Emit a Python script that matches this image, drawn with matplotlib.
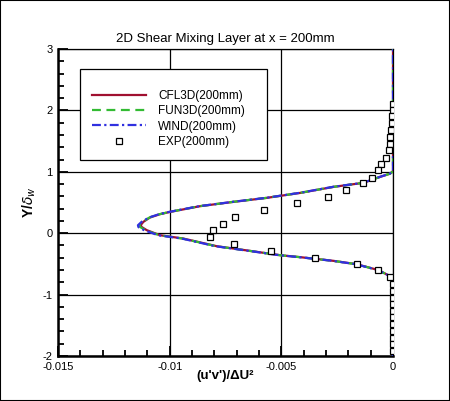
import matplotlib
matplotlib.use("Agg")
import matplotlib.pyplot as plt
from matplotlib.patches import Rectangle
from matplotlib.ticker import MultipleLocator

plt.rcParams['font.family'] = ['Liberation Sans', 'DejaVu Sans']

# ---- data ----
cfd_y = [-2.0, -0.75, -0.733, -0.684, -0.60, -0.505, -0.45, -0.39, -0.358, -0.288,
         -0.212, -0.087, -0.033, 0.05, 0.10, 0.13, 0.184, 0.256, 0.31, 0.347,
         0.44, 0.51, 0.575, 0.656, 0.754, 0.82, 0.917, 0.97, 1.01, 3.0]
cfl3d_x = [0, 0, -0.00002, -0.00021, -0.00066, -0.00163, -0.00267, -0.00416, -0.00506, -0.0064,
           -0.00789, -0.00939, -0.01043, -0.01103, -0.01125, -0.0113, -0.01118, -0.01088, -0.01043, -0.00998,
           -0.00864, -0.00715, -0.00566, -0.00416, -0.00267, -0.00133, -0.00058, -0.00013, 0, 0]
fun3d_x = [0, 0, -0.00002, -0.00022, -0.00067, -0.00165, -0.00268, -0.00418, -0.00508, -0.00642,
           -0.00792, -0.00942, -0.01047, -0.01108, -0.01132, -0.01136, -0.01122, -0.0109, -0.01045, -0.01,
           -0.00866, -0.00717, -0.00568, -0.00418, -0.00268, -0.00134, -0.00058, -0.00013, 0, 0]
wind_x = [0, 0, -0.00002, -0.00022, -0.00068, -0.00166, -0.0027, -0.0042, -0.0051, -0.00645,
          -0.00795, -0.00946, -0.01052, -0.01115, -0.0114, -0.01142, -0.01126, -0.01092, -0.01047, -0.01002,
          -0.00868, -0.00719, -0.0057, -0.0042, -0.0027, -0.00135, -0.00059, -0.00014, 0, 0]

exp_y = [2.11, 2.0, 1.905, 1.80, 1.68, 1.57, 1.46, 1.35, 1.23, 1.135, 1.026, 0.907, 0.81,
         0.70, 0.586, 0.484, 0.37, 0.256, 0.147, 0.044, -0.07, -0.184, -0.282, -0.396,
         -0.505, -0.60, -0.72, -0.83, -0.94, -1.05, -1.16, -1.27, -1.37, -1.48, -1.59,
         -1.70, -1.81, -1.92]
exp_x = [0, -0.00002, -0.00003, -0.00004, -0.00008, -0.00012, -0.00015, -0.00018, -0.0003,
         -0.00052, -0.00066, -0.00093, -0.00133, -0.00209, -0.00292, -0.00428, -0.00576,
         -0.00706, -0.0076, -0.00805, -0.00818, -0.0071, -0.00545, -0.00349, -0.00163,
         -0.00066, -0.00013, 0, 0, 0, 0, 0, 0, 0, 0, 0, 0, 0]

labels = ['CFL3D(200mm)', 'FUN3D(200mm)', 'WIND(200mm)', 'EXP(200mm)']
title = '2D Shear Mixing Layer at x = 200mm'

# ---- figure ----
fig = plt.figure(figsize=(4.5, 4.01), dpi=100)
ax = fig.add_axes([58/450, 45/401, 335/450, 307/401])

ax.plot(cfl3d_x, cfd_y, color='#a01030', lw=1.6, ls='-', label=labels[0], zorder=3)
ax.plot(fun3d_x, cfd_y, color='#33bb33', lw=1.6, ls=(0, (4, 2.5)), label=labels[1], zorder=4)
ax.plot(wind_x, cfd_y, color='#3030e0', lw=1.6, ls=(0, (4, 1.5, 1, 1.5)), label=labels[2], zorder=5)
ax.plot(exp_x, exp_y, ls='none', marker='s', ms=3.8, mfc='white', mec='black', mew=0.9,
        label=labels[3], zorder=6)

ax.set_xlim(-0.015, 0)
ax.set_ylim(-2, 3)
ax.xaxis.set_minor_locator(MultipleLocator(0.001))
ax.yaxis.set_minor_locator(MultipleLocator(0.2))
ax.set_xticks([-0.015, -0.01, -0.005, 0])
ax.set_xticklabels(['-0.015', '-0.01', '-0.005', '0'])
ax.set_yticks([-2, -1, 0, 1, 2, 3])
ax.set_yticklabels(['-2', '-1', '0', '1', '2', '3'])

ax.tick_params(which='both', direction='in', top=False, right=False, labelsize=8, width=1.3)
ax.tick_params(which='major', length=7, pad=4)
ax.tick_params(which='minor', length=4)
ax.grid(True, which='major', color='black', lw=0.9)
ax.set_axisbelow(True)

for s in ['left', 'bottom']:
    ax.spines[s].set_linewidth(1.8)
for s in ['top', 'right']:
    ax.spines[s].set_linewidth(0.9)

ax.set_title(title, fontsize=9.5, pad=5)
ax.set_xlabel("(u'v')/ΔU²", fontsize=9.5, fontweight='bold', labelpad=-1)
ax.set_ylabel(r'Y/$\delta_w$', fontsize=10, fontweight='bold', labelpad=3)

# legend box
ax.add_patch(Rectangle((22/335, (356-160)/307), (267-80)/335, (160-69)/307,
                       transform=ax.transAxes, facecolor='white', edgecolor='black',
                       lw=0.9, zorder=7))
leg = ax.legend(loc='upper left', bbox_to_anchor=((92-58)/335, (356-90)/307),
                frameon=False, fontsize=8.5, handlelength=4.6, handletextpad=1.0,
                labelspacing=0.28, borderpad=0, borderaxespad=0)
leg.set_zorder(8)

fig.add_artist(Rectangle((0, 0), 1, 1, transform=fig.transFigure, fill=False,
                         edgecolor='black', lw=1.5))

fig.savefig('out.png', dpi=100)
